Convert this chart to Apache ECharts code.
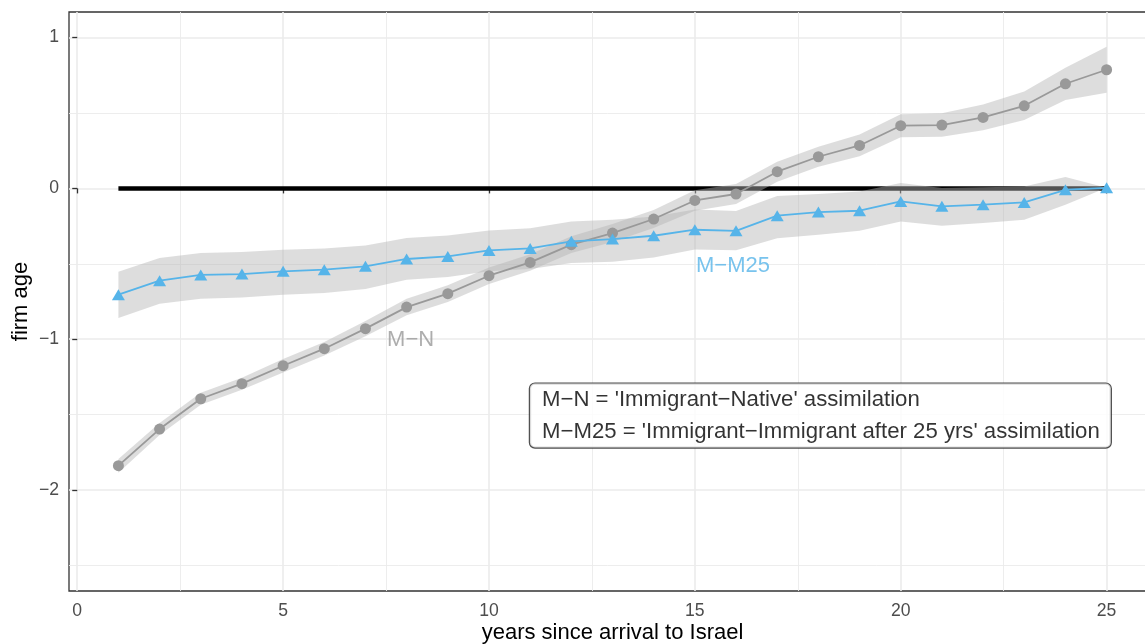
<!DOCTYPE html>
<html><head><meta charset="utf-8">
<script src="https://cdn.jsdelivr.net/npm/echarts@6/dist/echarts.min.js"></script>
<style>html,body{margin:0;padding:0;background:#fff}#c{width:1145px;height:644px}</style>
</head><body><div id="c"></div>
<script>
const years = [1,2,3,4,5,6,7,8,9,10,11,12,13,14,15,16,17,18,19,20,21,22,23,24,25];
const mnVals  = [-1.839,-1.596,-1.395,-1.295,-1.176,-1.063,-0.930,-0.787,-0.698,-0.579,-0.491,-0.373,-0.296,-0.203,-0.080,-0.037,0.111,0.210,0.285,0.416,0.420,0.471,0.548,0.694,0.787];
const mnUpper = [-1.795,-1.556,-1.355,-1.255,-1.131,-1.018,-0.880,-0.732,-0.643,-0.524,-0.436,-0.318,-0.236,-0.143,-0.012,0.030,0.177,0.277,0.357,0.492,0.498,0.557,0.642,0.801,0.940];
const mnLower = [-1.885,-1.636,-1.435,-1.335,-1.221,-1.108,-0.980,-0.842,-0.753,-0.634,-0.546,-0.428,-0.356,-0.263,-0.148,-0.104,0.045,0.143,0.213,0.340,0.342,0.385,0.454,0.587,0.634];
const mm25Vals  = [-0.705,-0.612,-0.574,-0.568,-0.550,-0.539,-0.517,-0.468,-0.451,-0.411,-0.398,-0.351,-0.336,-0.314,-0.274,-0.281,-0.181,-0.157,-0.148,-0.086,-0.119,-0.108,-0.093,-0.009,0.004];
const mm25Upper = [-0.552,-0.462,-0.428,-0.422,-0.406,-0.398,-0.378,-0.329,-0.312,-0.279,-0.265,-0.219,-0.208,-0.186,-0.140,-0.150,-0.050,-0.037,-0.020,0.036,0.003,0.007,0.013,0.076,0.004];
const mm25Lower = [-0.859,-0.765,-0.731,-0.723,-0.705,-0.694,-0.667,-0.605,-0.588,-0.550,-0.535,-0.495,-0.486,-0.458,-0.405,-0.410,-0.330,-0.307,-0.281,-0.219,-0.247,-0.230,-0.208,-0.108,0.004];
const refLineX = [1, 25];
const refLineY = [0, 0];
const xTicks = [0, 5, 10, 15, 20, 25];
const xMinor = [2.5, 7.5, 12.5, 17.5, 22.5];
const yTicks = [-2, -1, 0, 1];
const yMinor = [-2.5, -1.5, -0.5, 0.5];
const labelNames = ['M−N', 'M−M25'];
const labelPos = [[8, -1], [16, -0.5]];
const noteLines = ["M−N = 'Immigrant−Native' assimilation", "M−M25 = 'Immigrant−Immigrant after 25 yrs' assimilation"];
const notePos = [18, -1.5];

const FONT = '"Liberation Sans", Arial, Helvetica, sans-serif';
const GRAY = '#999999', BLUE = '#56B4E9', RIB = 'rgba(180,180,180,0.46)';
const fmt = v => String(v).replace('-', '\u2212');

function ribbon(lower, upper, z) {
  return {
    type: 'custom', z: z, silent: true, animation: false,
    data: years.map((x, i) => [x, lower[i], upper[i]]),
    encode: { x: 0, y: [1, 2] },
    renderItem: function (params, api) {
      if (params.dataIndex !== 0) return null;
      const pts = [];
      for (let i = 0; i < years.length; i++) pts.push(api.coord([years[i], upper[i]]));
      for (let i = years.length - 1; i >= 0; i--) pts.push(api.coord([years[i], lower[i]]));
      return { type: 'polygon', shape: { points: pts }, style: { fill: RIB } };
    }
  };
}

const gridLines = [].concat(
  xTicks.map(v => ({ xAxis: v, lineStyle: { width: 1.6 } })),
  xMinor.map(v => ({ xAxis: v, lineStyle: { width: 0.9 } })),
  yTicks.map(v => ({ yAxis: v, lineStyle: { width: 1.6 } })),
  yMinor.map(v => ({ yAxis: v, lineStyle: { width: 0.9 } }))
);

const labelStyles = [{ color: GRAY, offset: [4, 1] }, { color: BLUE, offset: [-3, 2] }];

const chart = echarts.init(document.getElementById('c'), null, { renderer: 'canvas' });
chart.setOption({
  animation: false,
  backgroundColor: '#ffffff',
  textStyle: { fontFamily: FONT },
  grid: { left: 69, right: -11, top: 12, bottom: 53, show: true, borderColor: '#333333', borderWidth: 1.3,
          containLabel: false, outerBoundsMode: 'none' },
  xAxis: {
    type: 'value', min: -0.2, max: 26.2,
    axisLine: { show: false },
    axisTick: { show: true, customValues: xTicks, length: 5, lineStyle: { color: '#333333', width: 1.3 } },
    axisLabel: { customValues: xTicks, color: '#4D4D4D', fontSize: 17.6, margin: 11, fontFamily: FONT, formatter: fmt },
    splitLine: { show: false },
    name: 'years since arrival to Israel', nameLocation: 'middle', nameGap: 31, nameMoveOverlap: false,
    nameTextStyle: { color: '#000000', fontSize: 22, fontFamily: FONT }
  },
  yAxis: {
    type: 'value', min: -2.67, max: 1.17,
    axisLine: { show: false },
    axisTick: { show: true, customValues: yTicks, length: 5, lineStyle: { color: '#333333', width: 1.3 } },
    axisLabel: { customValues: yTicks, color: '#4D4D4D', fontSize: 17.6, margin: 10, fontFamily: FONT, formatter: fmt },
    splitLine: { show: false },
    name: 'firm age', nameLocation: 'middle', nameGap: 37, nameRotate: 90, nameMoveOverlap: false,
    nameTextStyle: { color: '#000000', fontSize: 22, fontFamily: FONT }
  },
  series: [
    {
      type: 'line', z: 1, data: [], silent: true,
      markLine: { z: 0, silent: true, symbol: ['none', 'none'], label: { show: false },
        lineStyle: { color: '#EBEBEB', type: 'solid' }, emphasis: { disabled: true }, data: gridLines }
    },
    {
      type: 'line', z: 2, silent: true, symbol: 'none',
      data: refLineX.map((x, i) => [x, refLineY[i]]),
      lineStyle: { color: '#000000', width: 4.5, cap: 'butt' }
    },
    ribbon(mnLower, mnUpper, 3),
    ribbon(mm25Lower, mm25Upper, 3),
    {
      type: 'line', z: 4, silent: true, symbol: 'circle', symbolSize: 11,
      data: years.map((x, i) => [x, mnVals[i]]),
      itemStyle: { color: GRAY }, lineStyle: { color: GRAY, width: 1.8 }
    },
    {
      type: 'line', z: 5, silent: true, symbol: 'triangle', symbolSize: [13, 11],
      data: years.map((x, i) => [x, mm25Vals[i]]),
      itemStyle: { color: BLUE }, lineStyle: { color: BLUE, width: 1.8 }
    },
    {
      type: 'scatter', z: 6, silent: true, symbolSize: 0,
      data: labelPos.map((p, i) => ({ value: p, name: labelNames[i], label: labelStyles[i] })),
      label: { show: true, position: 'inside', formatter: p => p.name, fontSize: 22, fontFamily: FONT }
    },
    {
      type: 'scatter', z: 7, silent: true, symbolSize: 0,
      data: [{ value: notePos }],
      label: {
        show: true, position: 'inside', offset: [2, 1],
        formatter: noteLines.map(t => '{a|' + t + '}').join('\n'),
        backgroundColor: '#ffffff', borderColor: '#222222', borderWidth: 1.2, borderRadius: 5,
        padding: [0, 11, 0, 12],
        rich: { a: { align: 'left', fontSize: 22.2, lineHeight: 32, color: '#000000', fontFamily: FONT } }
      }
    }
  ]
});
</script></body></html>
